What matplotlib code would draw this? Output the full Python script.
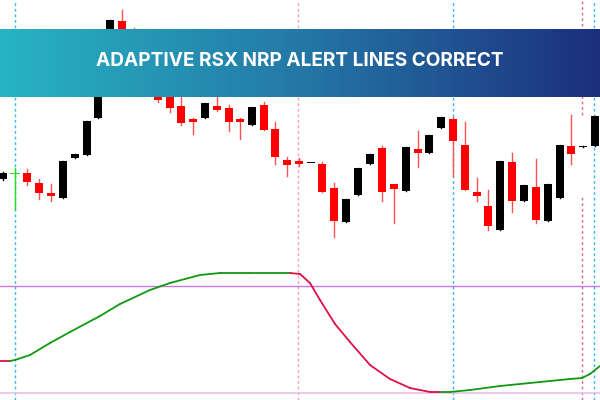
import matplotlib
matplotlib.use("Agg")
import matplotlib.pyplot as plt
import numpy as np
from matplotlib.colors import LinearSegmentedColormap

# candle data in price units (price = 400 - pixel row)
cx = [3,15,27,39,51,63,75,87,98,110,122,134,146,158,170,181,193,205,217,229,240,252,264,275,287,299,311,322,334,346,358,370,382,394,406,418,429,441,453,465,477,488,500,512,524,536,548,560,571,583,595]
o_px = [179,174,173,183,193,198,158,155,118,75,21,30,75,70,97,106,119,118,106,108,119,125,105,129,160,161,163,164,188,222,195,164,148,184,191,149,153,128,119,145,192,206,230,162,201,187,221,198,146,147,146]
c_px = [173,174,182,193,196,161,154,121,75,20,45,60,55,100,108,123,122,103,110,122,122,107,130,157,165,164,163,192,221,199,168,154,192,189,147,153,135,117,141,190,196,226,161,201,185,220,184,145,154,146,116]
h_px = [172,168,169,179,184,161,154,121,75,20,10,28,55,68,95,95,118,103,97,105,118,107,102,122,157,158,163,162,183,199,168,154,146,184,147,131,135,117,117,122,178,190,161,153,185,159,184,145,115,146,116]
l_px = [180,209,185,199,201,198,158,155,118,75,48,62,75,102,112,125,134,118,111,131,139,125,130,164,176,166,163,192,237,222,195,164,201,223,191,167,153,128,176,190,201,230,230,212,201,223,221,198,164,147,146]
opens = [400 - v for v in o_px]
closes = [400 - v for v in c_px]
highs = [400 - v for v in h_px]
lows = [400 - v for v in l_px]

# indicator line
ind_x = [0,10,15,30,50,70,100,120,150,170,200,220,250,290,300,310,320,335,350,370,390,410,430,440,450,470,500,540,570,582,590,600]
ind_px = [361,361,360,355,343,332,316,304,290,283,275,273,273,273,274,283,300,324,342,365,379,388,392,392,392,390,386,382,379,378,374,366]
ind = [400 - v for v in ind_px]
level_px = [286, 393]
title = "ADAPTIVE RSX NRP ALERT LINES CORRECT"

fig = plt.figure(figsize=(6, 4), dpi=100)
ax = fig.add_axes([0, 0, 1, 1])
ax.set_xlim(0, 600)
ax.set_ylim(0, 400)
ax.axis("off")

# vertical dotted lines
for x, col, segs in [(15, "#33bbee", [(0, 400)]), (298, "#f0a0b8", [(0, 400)]),
                     (453, "#33bbee", [(0, 400)]), (582, "#e06890", [(285, 400), (0, 205)]),
                     (594, "#33bbee", [(0, 400)])]:
    for a, b in segs:
        ax.plot([x, x], [a, b], color=col, lw=1, ls=(0, (2, 2)), zorder=1)

for lp, col in zip(level_px, ["#cc77dd", "#e8c0ea"]):
    ax.axhline(400 - lp, color=col, lw=1.2 if lp == 393 else 1, zorder=1)

# candles
for i in range(len(cx)):
    up = closes[i] >= opens[i]
    col = "black" if up else "#ff0000"
    wcol = "black" if up else "#ff5050"
    if i == 1:
        col = wcol = "#22dd22"
    ax.plot([cx[i], cx[i]], [lows[i], highs[i]], color=wcol, lw=1, zorder=2)
    b = min(opens[i], closes[i]); h = max(abs(closes[i] - opens[i]), 1.5)
    ax.bar(cx[i], h, bottom=b, width=8 if i != 1 else 10, color=col, zorder=3, linewidth=0)

# indicator
for i in range(len(ind_x) - 1):
    col = "#119911" if ind[i + 1] >= ind[i] else "#dd1144"
    if ind[i + 1] == ind[i]:
        col = "#119911" if 10 < ind_x[i] < 290 or ind_x[i] >= 440 and ind_x[i] < 570 else "#dd1144"
    ax.plot(ind_x[i:i + 2], ind[i:i + 2], color=col, lw=1.3, zorder=4, solid_capstyle="round")

# banner
cmap = LinearSegmentedColormap.from_list("b", ["#27b4c4", "#2478a6", "#1c2f7e"])
grad = np.linspace(0, 1, 300).reshape(1, -1)
ax.imshow(grad, cmap=cmap, extent=[0, 600, 400 - 97, 400 - 29], aspect="auto", zorder=5)
ax.text(300, 400 - 61, title, color="white", fontsize=13.7, fontweight="bold",
        family="Inter", ha="center", va="center", zorder=6)
ax.set_xlim(0, 600); ax.set_ylim(0, 400)
fig.savefig("out.png", dpi=100)
